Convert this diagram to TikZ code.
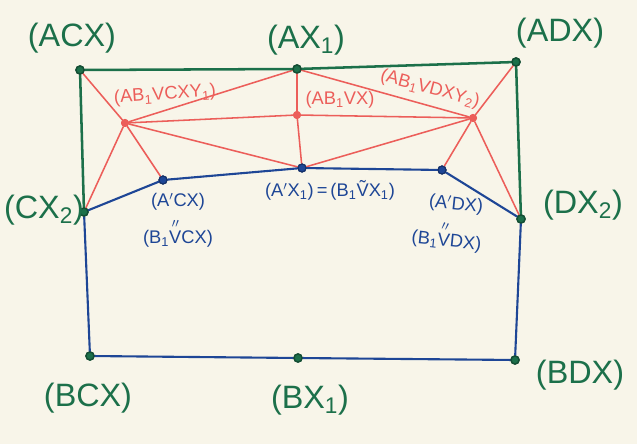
\documentclass[tikz,border=0pt]{standalone}
\usepackage{amsmath}
\usepackage{fontspec}
\setmainfont{Liberation Sans}
\definecolor{paper}{RGB}{248,245,233}
\definecolor{vert}{RGB}{28,112,74}
\definecolor{rouge}{RGB}{236,94,90}
\definecolor{bleu}{RGB}{30,70,150}
\newcommand{\sub}[1]{\textsubscript{#1}}
\newcommand{\Vpp}{$\overset{\prime\prime}{\text{V}}$}
\tikzset{
  gdot/.style={circle,draw=vert!70!black,fill=vert,line width=1pt,inner sep=0,minimum size=2mm},
  rdot/.style={circle,fill=rouge,inner sep=0,minimum size=2mm},
  bdot/.style={circle,draw=bleu!70!black,fill=bleu,line width=0.8pt,inner sep=0,minimum size=2mm},
  glab/.style={text=vert,font=\fontsize{23}{26}\selectfont,inner sep=0},
  rlab/.style={text=rouge,font=\fontsize{13}{15}\selectfont,inner sep=0},
  blab/.style={text=bleu,font=\fontsize{13}{15}\selectfont,inner sep=0},
  gline/.style={vert,line width=1.8pt,line cap=round},
  rline/.style={rouge,line width=1.1pt,line cap=round},
  bline/.style={bleu,line width=1.5pt,line cap=round,line join=round}
}
\begin{document}
\begin{tikzpicture}[x=0.025cm,y=-0.025cm]
  % --- fond ---
  \fill[paper] (0,0) rectangle (637,444);
  \useasboundingbox (0,0) rectangle (637,444);

  % --- sommets verts ---
  \node[gdot] (acx) at (80,70) {};
  \node[gdot] (ax1) at (297,69) {};
  \node[gdot] (adx) at (516,62) {};
  \node[gdot] (cx2) at (84,212) {};
  \node[gdot] (dx2) at (521,219) {};
  \node[gdot] (bcx) at (90,356) {};
  \node[gdot] (bx1) at (298,358) {};
  \node[gdot] (bdx) at (515,360) {};

  % --- points rouges ---
  \node[rdot] (abvcxy) at (125,123) {};
  \node[rdot] (abvx) at (297,115) {};
  \node[rdot] (abvdxy) at (473,118) {};

  % --- points bleus ---
  \node[bdot] (apcx) at (163,180) {};
  \node[bdot] (apx1) at (302,168) {};
  \node[bdot] (apdx) at (442,170) {};

  % --- traits rouges ---
  \foreach \a/\b in {acx/abvcxy,abvcxy/ax1,abvcxy/abvx,abvcxy/apx1,abvcxy/apcx,abvcxy/cx2,
                     ax1/abvx,abvx/apx1,ax1/abvdxy,abvx/abvdxy,apx1/abvdxy,
                     abvdxy/adx,abvdxy/apdx,abvdxy/dx2}
    \draw[rline] (\a) -- (\b);

  % --- traits verts ---
  \draw[gline] (cx2) -- (acx) -- (ax1) -- (adx) -- (dx2);

  % --- traits bleus ---
  \draw[bline] (cx2) -- (apcx) -- (apx1) -- (apdx) -- (dx2) -- (bdx) -- (bx1) -- (bcx) -- (cx2);

  % --- on redessine les points par-dessus ---
  \foreach \p in {acx,ax1,adx,cx2,dx2,bcx,bx1,bdx}
    \node[gdot] at (\p) {};
  \foreach \p in {abvcxy,abvx,abvdxy}
    \node[rdot] at (\p) {};
  \foreach \p in {apcx,apx1,apdx}
    \node[bdot] at (\p) {};

  % --- étiquettes vertes ---
  \node[glab] (lacx) at (72,38) {(ACX)};
  \node[glab] (lax1) at (306,40) {(AX\sub{1})};
  \node[glab] (ladx) at (560,33) {(ADX)};
  \node[glab] (lcx2) at (44,210) {(CX\sub{2})};
  \node[glab] (ldx2) at (583,205) {(DX\sub{2})};
  \node[glab] (lbcx) at (88,398) {(BCX)};
  \node[glab] (lbx1) at (310,400) {(BX\sub{1})};
  \node[glab] (lbdx) at (580,375) {(BDX)};

  % --- étiquettes rouges ---
  \node[rlab,rotate=4] (labvcxy) at (165,95) {(AB\sub{1}VCXY\sub{1})};
  \node[rlab] (labvx) at (340,100) {(AB\sub{1}VX)};
  \node[rlab,rotate=-15] (labvdxy) at (430,89) {(AB\sub{1}VDXY\sub{2})};

  % --- étiquettes bleues ---
  \node[blab] (lapcx) at (178,202) {(A$'$CX)};
  \node[blab] (lbvcx) at (178,233) {(B\sub{1}\Vpp CX)};
  \node[blab] (lapx1) at (330,190) {(A$'$X\sub{1})\,=\,(B\sub{1}\~{V}X\sub{1})};
  \node[blab,rotate=-6] (lapdx) at (456,205) {(A$'$DX)};
  \node[blab,rotate=-6] (lbvdx) at (447,236) {(B\sub{1}\Vpp DX)};
\end{tikzpicture}
\end{document}
